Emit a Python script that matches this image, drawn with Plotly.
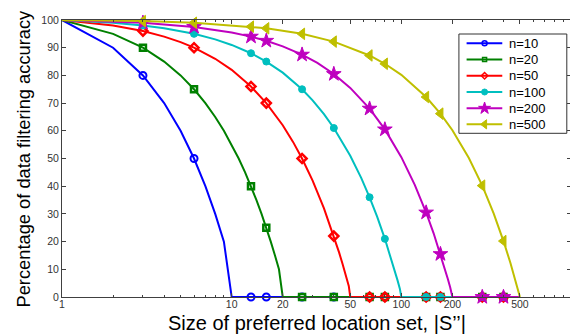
import plotly.graph_objects as go

# ---- data ----
names = ["n=10", "n=20", "n=50", "n=100", "n=200", "n=500"]
colors = ["#0000FF", "#008000", "#FF0000", "#00BFBF", "#BF00BF", "#BFBF00"]

x_n10 = [1, 2, 3, 4, 5, 6, 7, 8, 9, 10, 500]
y_n10 = [100, 90, 80, 70, 60, 50, 40, 30, 20, 0, 0]

x_n20 = [1, 2, 3, 4, 5, 6, 7, 8, 9, 10, 11, 12, 13, 14, 15, 16, 17, 18, 19, 20, 500]
y_n20 = [100, 95, 90, 85, 80, 75, 70, 65, 60, 55, 50, 45, 40, 35, 30, 25, 20, 15, 10, 0, 0]

x_n50 = [1, 2, 3, 4, 5, 6, 8, 10, 13, 16, 20, 23, 26, 30, 35, 40, 43, 45, 47, 48, 49, 50, 500]
y_n50 = [100, 98, 96, 94, 92, 90, 86, 82, 76, 70, 62, 56, 50, 42, 32, 22, 16, 12, 8, 6, 4, 0, 0]

x_n100 = [1, 2, 3, 4, 6, 8, 10, 13, 16, 20, 26, 30, 35, 40, 50, 58, 65, 72, 80, 86, 90, 95, 98, 99, 100, 500]
y_n100 = [100, 99, 98, 97, 95, 93, 91, 88, 85, 81, 75, 71, 66, 61, 51, 43, 36, 29, 21, 15, 11, 6, 3, 2, 0, 0]

x_n200 = [1, 3, 6, 10, 13, 16, 20, 26, 32, 40, 50, 65, 80, 100, 120, 140, 155, 170, 180, 188, 194, 198, 199, 200, 500]
y_n200 = [100, 99, 97.5, 95.5, 94, 92.5, 90.5, 87.5, 84.5, 80.5, 75.5, 68, 60.5, 50.5, 40.5, 30.5, 23, 15.5,
          10.5, 6.5, 3.5, 1.5, 1, 0, 0]

x_n500 = [1, 3, 6, 13, 16, 26, 40, 65, 80, 100, 140, 170, 200, 250, 300, 350, 400, 440, 470, 485, 495, 499, 500]
y_n500 = [100, 99.6, 99, 97.6, 97, 95, 92.2, 87.2, 84.2, 80.2, 72.2, 66.2, 60.2, 50.2, 40.2, 30.2, 20.2,
          12.2, 6.2, 3.2, 1.2, 0.4, 0]

marker_x = [3, 6, 13, 16, 26, 40, 65, 80, 140, 170, 300, 400]
marker_y_n10 = [80, 50, 0, 0, 0, 0, 0, 0, 0, 0, 0, 0]
marker_y_n20 = [90, 75, 40, 25, 0, 0, 0, 0, 0, 0, 0, 0]
marker_y_n50 = [96, 90, 76, 70, 50, 22, 0, 0, 0, 0, 0, 0]
marker_y_n100 = [98, 95, 88, 85, 75, 61, 36, 21, 0, 0, 0, 0]
marker_y_n200 = [99, 97.5, 94, 92.5, 87.5, 80.5, 68, 60.5, 30.5, 15.5, 0, 0]
marker_y_n500 = [99.6, 99, 97.6, 97, 95, 92.2, 87.2, 84.2, 72.2, 66.2, 40.2, 20.2]

x_tickvals = [1, 10, 20, 50, 100, 200, 500]
x_ticktext = ["1", "10", "20", "50", "100", "200", "500"]
x_minor_tickvals = [2, 3, 4, 5, 6, 7, 8, 9, 30, 40, 60, 70, 80, 90, 300, 400, 600, 700, 800, 900]
y_tickvals = [0, 10, 20, 30, 40, 50, 60, 70, 80, 90, 100]

line_xs = [x_n10, x_n20, x_n50, x_n100, x_n200, x_n500]
line_ys = [y_n10, y_n20, y_n50, y_n100, y_n200, y_n500]
marker_ys = [marker_y_n10, marker_y_n20, marker_y_n50, marker_y_n100, marker_y_n200, marker_y_n500]

# ---- styling ----
symbols = ["circle-open", "square-open", "diamond-open", "circle", "star", "triangle-left"]
msizes = [7, 6, 7, 7, 11, 10]
mlw = [2, 2.5, 2.5, 1, 1, 1]
leg_sizes = [5, 4, 5, 6, 9, 8]
FONT = "Liberation Sans, Arial, sans-serif"

# page body has an 8px margin: figure origin sits at (8, 8) in the screenshot
OFF = 8
W, H = 578 - OFF, 336 - OFF
PL, PT, PR, PB = 62, 20, 571.5, 297  # plot box in screenshot pixels
L, T = PL - OFF, PT - OFF
R, B = (OFF + W) - PR, (OFF + H) - PB
pw = PR - PL
ph = PB - PT

fig = go.Figure()
for i in range(6):
    c = colors[i]
    fig.add_trace(go.Scatter(x=line_xs[i], y=line_ys[i], mode="lines",
                             line=dict(color=c, width=2), showlegend=False,
                             hoverinfo="skip", cliponaxis=False))
    fig.add_trace(go.Scatter(x=marker_x, y=marker_ys[i], mode="markers",
                             marker=dict(symbol=symbols[i], size=msizes[i], color=c,
                                         line=dict(color=c, width=mlw[i])),
                             showlegend=False, cliponaxis=False))

# ---- hand-drawn legend (overlay axes in screenshot-pixel units) ----
LX0, LX1, LY0, LY1 = 459.3, 567.3, 34, 133.3
leg_rows = [43.3, 59.5, 75.8, 92.0, 108.3, 124.3]
fig.add_trace(go.Scatter(x=[LX0, LX1, LX1, LX0, LX0], y=[LY0, LY0, LY1, LY1, LY0],
                         mode="lines", fill="toself", fillcolor="white",
                         line=dict(color="#333333", width=1), xaxis="x2", yaxis="y2",
                         showlegend=False, hoverinfo="skip"))
annotations = []
for i in range(6):
    c = colors[i]
    yc = leg_rows[i]
    fig.add_trace(go.Scatter(x=[467, 502.7], y=[yc, yc], mode="lines",
                             line=dict(color=c, width=2), xaxis="x2", yaxis="y2",
                             showlegend=False, hoverinfo="skip"))
    fig.add_trace(go.Scatter(x=[485], y=[yc], mode="markers",
                             marker=dict(symbol=symbols[i], size=leg_sizes[i], color=c,
                                         line=dict(color=c, width=1.5 if i < 3 else 1)),
                             xaxis="x2", yaxis="y2", showlegend=False, hoverinfo="skip"))
    annotations.append(dict(text=names[i], xref="x2", yref="y2", x=507.5, y=yc,
                            xanchor="left", yanchor="middle", showarrow=False,
                            font=dict(size=13, family=FONT, color="#000000")))

axis_common = dict(showline=True, linecolor="#404040", linewidth=1, mirror="ticks",
                   ticks="inside", ticklen=4, tickcolor="#404040", showgrid=False,
                   zeroline=False, tickfont=dict(family=FONT, size=10.5, color="#333333"))

annotations += [
    dict(text="Size of preferred location set, |S\u2019\u2019|", xref="paper", yref="paper",
         x=0.5, y=0, yshift=-(322.5 - PB), xanchor="center", yanchor="middle",
         showarrow=False, font=dict(size=20, family=FONT, color="#000000")),
    dict(text="Percentage of data filtering accuracy", xref="paper", yref="paper",
         x=0, xshift=-(PL - 23), y=(PB - 158.5) / ph, textangle=-90,
         xanchor="center", yanchor="middle", showarrow=False,
         font=dict(size=18.3, family=FONT, color="#000000")),
]

fig.update_layout(
    width=W, height=H,
    margin=dict(l=L, r=R, t=T, b=B, pad=0),
    paper_bgcolor="white", plot_bgcolor="white",
    font=dict(family=FONT, color="#000000"),
    showlegend=False,
    xaxis=dict(type="log", range=[0, 3], tickmode="array", tickvals=x_tickvals,
               ticktext=x_ticktext, ticklabelstandoff=-3,
               minor=dict(ticks="inside", ticklen=2, tickcolor="#404040",
                          tickvals=x_minor_tickvals, showgrid=False),
               **axis_common),
    yaxis=dict(range=[0, 100], tickmode="array", tickvals=y_tickvals, **axis_common),
    xaxis2=dict(overlaying="x", range=[PL, PR], visible=False, fixedrange=True),
    yaxis2=dict(overlaying="y", range=[PB, PT], visible=False, fixedrange=True),
    annotations=annotations,
)

fig.write_html("out.html")
